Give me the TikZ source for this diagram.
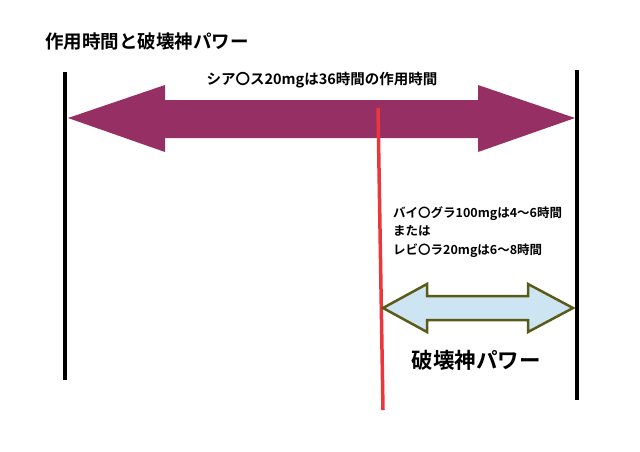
\documentclass[tikz,border=0pt]{standalone}
\usepackage{fontspec}
\setmainfont{Noto Sans CJK JP}[BoldFont={Noto Sans CJK JP Bold}]
\begin{document}
\begin{tikzpicture}[x=1pt,y=-1pt,
  lbl/.style={font=\bfseries, inner sep=0pt},
  vline/.style={line width=3.5pt, black}]
\useasboundingbox (0,0) rectangle (640,452);
\definecolor{plum}{RGB}{150,48,100}
\definecolor{lblue}{RGB}{205,228,242}
\definecolor{olive2}{RGB}{90,90,25}
\node[lbl, anchor=west, font=\bfseries\fontsize{18.5}{20}\selectfont] (title) at (45,42) {作用時間と破壊神パワー};
\coordinate (l1) at (65,72); \coordinate (l2) at (65,380);
\coordinate (r1) at (577,70); \coordinate (r2) at (577,400);
\draw[vline] (l1) -- (l2);
\draw[vline] (r1) -- (r2);
\fill[plum] (68,118) -- (165,85) -- (165,100) -- (478,100) -- (478,85) -- (575,118) -- (478,152) -- (478,138) -- (165,138) -- (165,152) -- cycle;
\node[lbl, font=\bfseries\fontsize{14.5}{16}\selectfont] (t1) at (322,80) {シア〇ス20mgは36時間の作用時間};
\coordinate (ra) at (378,108); \coordinate (rb) at (383,410);
\draw[line width=3.5pt, color={rgb,255:red,235;green,55;blue,60}] (ra) -- (rb);
\node[lbl, anchor=north west, align=left, font=\bfseries\fontsize{12.5}{18.5}\selectfont] (t2) at (393,206) {バイ〇グラ100mgは4～6時間\\または\\レビ〇ラ20mgは6～8時間};
\filldraw[fill=lblue, draw=olive2, line width=2.5pt, line join=miter] (383,308) -- (427,284) -- (427,296) -- (528,296) -- (528,284) -- (573,308) -- (528,332) -- (528,320) -- (427,320) -- (427,332) -- cycle;
\node[lbl, font=\bfseries\fontsize{21.5}{24}\selectfont] (t3) at (476,360) {破壊神パワー};
\end{tikzpicture}
\end{document}
